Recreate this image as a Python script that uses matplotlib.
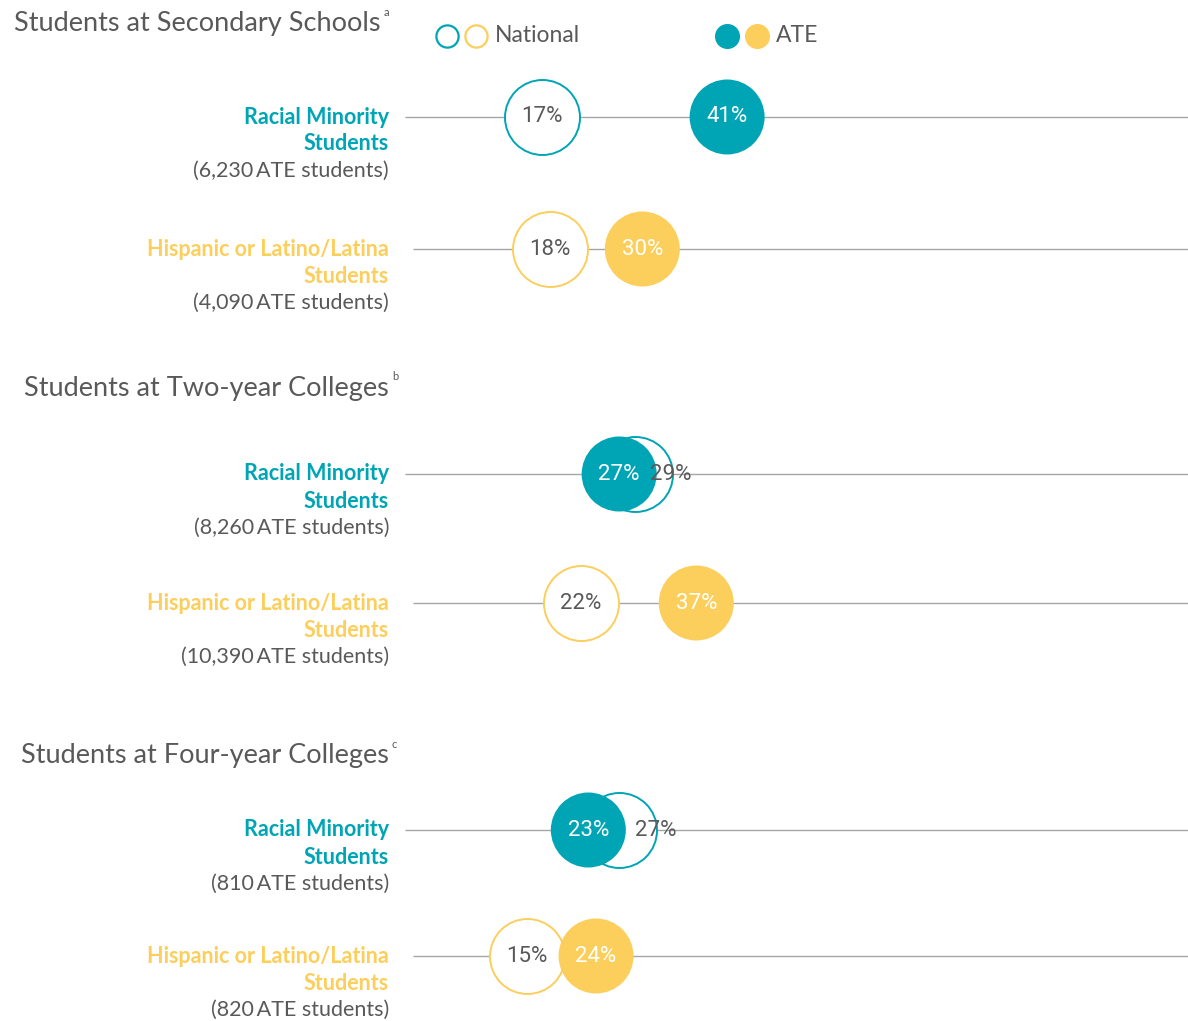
import matplotlib.pyplot as plt

# data
groups = ['Students at Secondary Schools', 'Students at Two-year Colleges', 'Students at Four-year Colleges']
footnotes = ['a', 'b', 'c']
row_names = ['Racial Minority', 'Hispanic or Latino/Latina'] * 3
counts = ['6,230', '4,090', '8,260', '10,390', '810', '820']
national = [17, 18, 29, 22, 27, 15]
ate = [41, 30, 27, 37, 23, 24]

TEAL = '#00A5B5'
YELLOW = '#FCCF5C'
GRAY = '#595959'
LINE = '#A6A6A6'
row_colors = [TEAL, YELLOW] * 3
line_start = [405, 413] * 3  # pixel where each row's rule begins

W, H = 1188, 1021
X0 = 411      # pixel where 0% sits
SCALE = 7.71  # pixels per percent
row_y = [117, 249, 474, 603, 830, 956]
header_y = [24, 388, 756]
header_right = [381, 389, 389]

fig = plt.figure(figsize=(W / 100, H / 100), dpi=100)
ax = fig.add_axes([0, 0, 1, 1])
ax.set_xlim(-X0 / SCALE, (W - X0) / SCALE)
ax.set_ylim(H, 0)
ax.axis('off')

def fx(px):
    return px / W

def fy(py):
    return 1 - py / H

size = 54 ** 2
for i, y in enumerate(row_y):
    c = row_colors[i]
    ax.hlines(y, (line_start[i] - X0) / SCALE, (W - X0) / SCALE, color=LINE, lw=1, zorder=1)
    ax.scatter(national[i], y, s=size, facecolor='white', edgecolor=c, lw=1.4, zorder=2)
    ax.scatter(ate[i], y, s=size, facecolor=c, edgecolor='none', zorder=3)
    ax.text(ate[i], y, f'{ate[i]}%', color='white', ha='center', va='center',
            fontsize=16, family='Roboto', zorder=4)
    off = 4.7 if abs(national[i] - ate[i]) < 8 else 0
    ax.text(national[i] + off, y, f'{national[i]}%', color=GRAY, ha='center', va='center',
            fontsize=16, family='Roboto', zorder=5)

    fig.text(fx(389), fy(y), row_names[i], color=c, fontweight='bold', ha='right',
             va='center', fontsize=15.5, family='Lato')
    fig.text(fx(389), fy(y + 27), 'Students', color=c, fontweight='bold', ha='right',
             va='center', fontsize=15.5, family='Lato')
    fig.text(fx(389), fy(y + 54), f'({counts[i]}\u2009ATE students)', color=GRAY, ha='right',
             va='center', fontsize=15.5, family='Lato')

for g, note, y, r in zip(groups, footnotes, header_y, header_right):
    fig.text(fx(r), fy(y), g, color=GRAY, ha='right', va='center', fontsize=19.5, family='Lato')
    fig.text(fx(r + 3), fy(y - 12), note, color=GRAY, ha='left', va='center', fontsize=8, family='Lato')

# legend
leg_y = 36
for px, c in [(447, TEAL), (476, YELLOW)]:
    fig.lines.append(plt.Line2D([fx(px)], [fy(leg_y)], marker='o', ms=16, mfc='white', mec=c,
                                mew=1.6, transform=fig.transFigure, figure=fig))
for px, c in [(727, TEAL), (757, YELLOW)]:
    fig.lines.append(plt.Line2D([fx(px)], [fy(leg_y)], marker='o', ms=17, mfc=c, mec=c,
                                transform=fig.transFigure, figure=fig))
fig.text(fx(495), fy(leg_y), 'National', color=GRAY, ha='left', va='center', fontsize=16.5, family='Lato')
fig.text(fx(776), fy(leg_y), 'ATE', color=GRAY, ha='left', va='center', fontsize=16.5, family='Lato')

fig.savefig('out.png', dpi=100, facecolor='white')
